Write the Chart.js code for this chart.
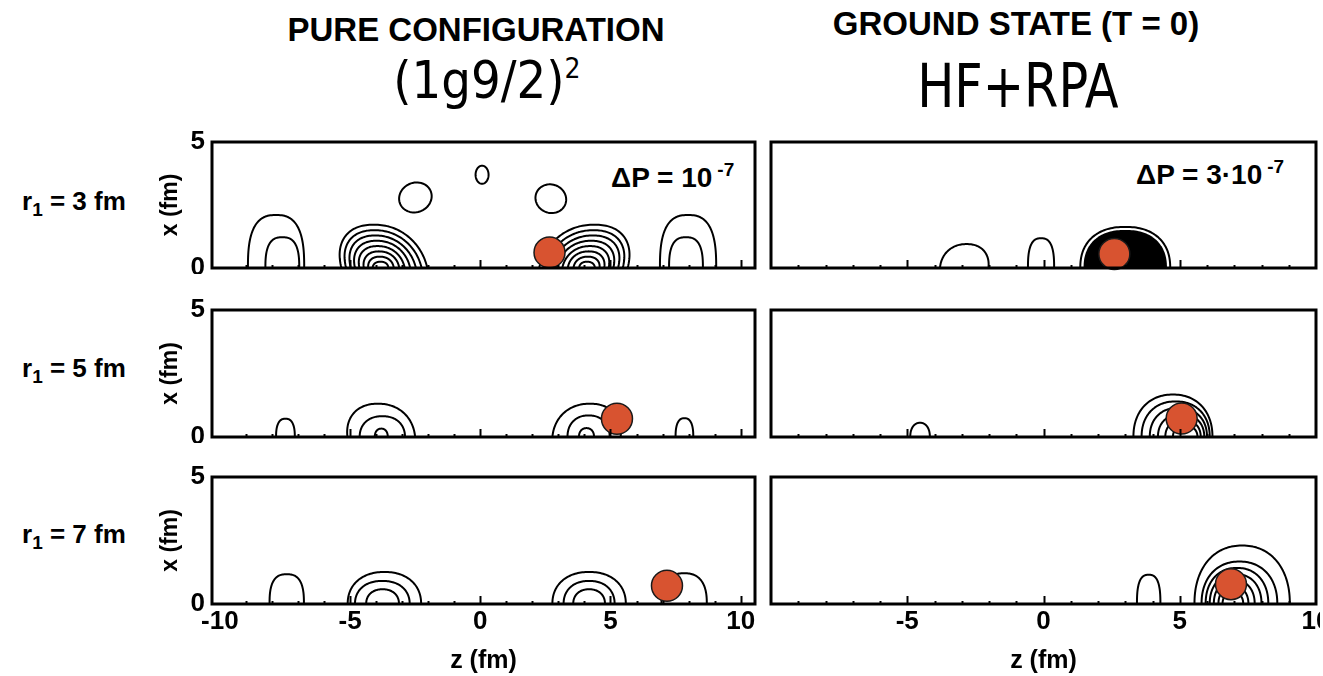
<!DOCTYPE html>
<html>
<head>
<meta charset="utf-8">
<script src="https://cdn.jsdelivr.net/npm/chart.js@4.4.1/dist/chart.umd.min.js"></script>
<style>
  body { margin: 0; background: #fff; width: 1323px; height: 676px; position: relative; overflow: hidden;
         font-family: "Liberation Sans", Arial, sans-serif; color: #000; }
  canvas { position: absolute; }
  .t { position: absolute; white-space: nowrap; line-height: 1; }
  .head { font-weight: bold; font-size: 33px; transform: translateX(-50%); }
  .formula { font-family: "DejaVu Sans Condensed", "DejaVu Sans", sans-serif; font-size: 52px; transform: translateX(-50%); }
  .method { font-family: "Liberation Sans Narrow", "DejaVu Sans Condensed", sans-serif; font-size: 61px;
            transform: translateX(-50%) scaleX(0.9); transform-origin: 0 0; }
  .row { font-weight: bold; font-size: 26px; }
  .row sub { font-size: 19px; vertical-align: -6px; }
  .dp { font-weight: bold; font-size: 28px; }
  .dp sup { font-size: 19px; vertical-align: 11px; margin-left: 5px; }
</style>
</head>
<body>
<div class="t head" style="left:476px; top:13px;">PURE CONFIGURATION</div>
<div class="t formula" style="left:487px; top:54px;">(1g9/2)<sup style="font-size:28px; vertical-align:20px;">2</sup></div>
<div class="t head" style="left:1016px; top:7px;">GROUND STATE (T = 0)</div>
<div class="t method" style="left:1029px; top:55px;">HF+RPA</div>

<div class="t row" id="row0" style="left:22px; top:188px;"></div>
<div class="t row" id="row1" style="left:22px; top:355px;"></div>
<div class="t row" id="row2" style="left:22px; top:521px;"></div>

<div class="t dp" id="dp0" style="left:611px; top:160px;"></div>
<div class="t dp" id="dp1" style="left:1136px; top:157px;"></div>

<script>
// Axis ticks and panel labels
const zTicksPure = [-10, -5, 0, 5, 10];
const zTicksRpa = [-5, 0, 5, 10];
const xTicks = [0, 5];
const radiusLabels = ['3', '5', '7'];
const deltaP = [['', '10', '-7'], ['3·', '10', '-7']];

// Position of the fixed nucleon (z, x) in fm, one per r1 row
const pureParticle = [[2.66, 0.62], [5.25, 0.72], [7.17, 0.72]];
const rpaParticle  = [[2.6, 0.56], [5.07, 0.73], [6.88, 0.78]];

// Contour arches standing on the z axis: [centre z, half width, height, lean, squareness]
const pureArchesR3 = [
  [-7.84, 1.08, 2.1, 0, 2.7], [-7.60, 0.65, 1.22, 0, 2.7],
  [-3.68, 1.65, 1.72, -0.25, 2.2], [-3.70, 1.45, 1.50, -0.25, 2.2], [-3.72, 1.25, 1.29, -0.25, 2.2],
  [-3.75, 1.06, 1.08, -0.22, 2.2], [-3.77, 0.87, 0.87, -0.2, 2.2], [-3.79, 0.68, 0.66, -0.15, 2.2],
  [-3.81, 0.49, 0.45, -0.1, 2.2], [-3.83, 0.30, 0.25, 0, 2.2],
  [3.96, 1.70, 1.72, 0.25, 2.2], [3.98, 1.49, 1.50, 0.25, 2.2], [4.00, 1.29, 1.29, 0.25, 2.2],
  [4.02, 1.09, 1.08, 0.22, 2.2], [4.04, 0.89, 0.87, 0.2, 2.2], [4.06, 0.70, 0.66, 0.15, 2.2],
  [4.08, 0.50, 0.45, 0.1, 2.2], [4.10, 0.30, 0.25, 0, 2.2],
  [7.98, 1.08, 2.1, 0, 2.7], [7.90, 0.65, 1.22, 0, 2.7]
];
// Closed contours off the axis: [centre z, centre x, radius z, radius x, tilt deg]
const pureLoopsR3 = [[-2.49, 2.8, 0.64, 0.58, 30], [2.71, 2.75, 0.6, 0.56, -30], [0.07, 3.7, 0.25, 0.36, 0]];

const rpaArchesR3 = [[-2.91, 0.89, 0.95, 0.1, 2.2], [-0.09, 0.48, 1.18, 0, 2.7], [3.0, 1.65, 1.63, 0, 2.3]];
const rpaFillsR3  = [[3.0, 1.53, 1.51, 0, 2.3]];

const pureArchesR5 = [
  [-7.48, 0.36, 0.72, 0, 2.5],
  [-3.80, 1.30, 1.31, -0.1, 2.2], [-3.76, 0.87, 0.82, 0, 2.2], [-3.80, 0.25, 0.33, 0, 2.2],
  [4.08, 1.31, 1.31, 0.1, 2.2], [4.16, 0.81, 0.85, 0, 2.2], [4.08, 0.29, 0.35, 0, 2.2],
  [7.84, 0.34, 0.74, 0, 2.5]
];
const rpaArchesR5 = [
  [-4.53, 0.36, 0.56, 0, 2.2],
  [4.75, 1.45, 1.67, 0, 2.2], [4.85, 1.25, 1.4, 0, 2.2], [4.95, 1.05, 1.15, 0, 2.2],
  [5.05, 0.85, 0.9, 0, 2.2], [5.12, 0.65, 0.68, 0, 2.2], [5.2, 0.45, 0.45, 0, 2.2]
];

const pureArchesR7 = [
  [-7.43, 0.66, 1.17, 0, 2.7],
  [-3.68, 1.41, 1.26, 0, 2.2], [-3.76, 1.05, 0.91, 0, 2.2], [-3.75, 0.63, 0.58, 0, 2.2],
  [4.18, 1.41, 1.26, 0, 2.2], [4.18, 0.98, 0.91, 0, 2.2], [4.18, 0.61, 0.58, 0, 2.2],
  [7.83, 0.87, 1.21, 0, 2.5]
];
const rpaArchesR7 = [
  [3.86, 0.43, 1.15, 0, 2.7],
  [7.29, 1.75, 2.3, 0, 2.2], [7.19, 1.39, 1.67, 0, 2.2], [7.1, 1.15, 1.42, 0, 2.2],
  [7.05, 0.95, 1.18, 0, 2.2], [7.0, 0.75, 0.94, 0, 2.2], [6.97, 0.55, 0.7, 0, 2.2], [6.95, 0.38, 0.46, 0, 2.2]
];

// Row and ΔP labels
radiusLabels.forEach((r, i) => {
  document.getElementById('row' + i).innerHTML = 'r<sub>1</sub> = ' + r + ' fm';
});
deltaP.forEach((d, i) => {
  document.getElementById('dp' + i).innerHTML = 'ΔP = ' + d[0] + d[1] + '<sup>' + d[2] + '</sup>';
});

const boldFont = size => ({ family: '"Liberation Sans", Arial, sans-serif', size, weight: 'bold' });

// Superellipse arch through the scales, from the right foot over the top to the left foot
function archPath(ctx, xs, ys, a) {
  const [c, hw, h, lean, n] = a;
  const N = 80;
  ctx.beginPath();
  for (let i = 0; i <= N; i++) {
    const t = Math.PI * i / N;
    const ct = Math.cos(t), st = Math.sin(t);
    const u = Math.sign(ct) * Math.pow(Math.abs(ct), 2 / n);
    const v = Math.pow(st, 2 / n);
    const px = xs.getPixelForValue(c + hw * u + lean * hw * v);
    const py = ys.getPixelForValue(h * v);
    if (i === 0) ctx.moveTo(px, py); else ctx.lineTo(px, py);
  }
}

function loopPath(ctx, xs, ys, l) {
  const [c, x0, rz, rx, tilt] = l;
  const r = tilt * Math.PI / 180;
  const N = 60;
  ctx.beginPath();
  for (let i = 0; i <= N; i++) {
    const t = 2 * Math.PI * i / N;
    const dz = rz * Math.cos(t), dx = rx * Math.sin(t);
    const z = c + dz * Math.cos(r) - dx * Math.sin(r);
    const x = x0 + dz * Math.sin(r) + dx * Math.cos(r);
    const px = xs.getPixelForValue(z), py = ys.getPixelForValue(x);
    if (i === 0) ctx.moveTo(px, py); else ctx.lineTo(px, py);
  }
  ctx.closePath();
}

function contourPlugin(arches, loops, fills, majorTicks) {
  return {
    id: 'contours',
    beforeDatasetsDraw(chart) {
      const { ctx, chartArea: a, scales: { x, y } } = chart;
      ctx.save();
      ctx.beginPath();
      ctx.rect(a.left, a.top, a.right - a.left, a.bottom - a.top);
      ctx.clip();
      ctx.strokeStyle = '#000';
      ctx.fillStyle = '#000';
      ctx.lineWidth = 2;
      ctx.lineJoin = 'round';
      fills.forEach(f => { archPath(ctx, x, y, f); ctx.closePath(); ctx.fill(); });
      arches.forEach(f => { archPath(ctx, x, y, f); ctx.stroke(); });
      loops.forEach(l => { loopPath(ctx, x, y, l); ctx.stroke(); });
      ctx.restore();
    },
    afterDraw(chart) {
      const { ctx, chartArea: a, scales: { x } } = chart;
      ctx.save();
      ctx.strokeStyle = '#000';
      // inward tick marks on the z axis: long at labelled ticks, short at every fm
      ctx.lineWidth = 2;
      for (let v = Math.ceil(x.min) + 1; v < x.max - 0.5; v++) {
        const px = Math.round(x.getPixelForValue(v)) + 0.5;
        const len = majorTicks.includes(v) ? 8 : 3;
        ctx.beginPath();
        ctx.moveTo(px, a.bottom);
        ctx.lineTo(px, a.bottom - len);
        ctx.stroke();
      }
      ctx.lineWidth = 3;
      ctx.strokeRect(a.left, a.top, a.right - a.left, a.bottom - a.top);
      ctx.restore();
    }
  };
}

function makePanel(opt) {
  const cv = document.createElement('canvas');
  const padT = 12, padR = 4;
  const yw = opt.leftCol ? 62 : 10;
  const xh = opt.bottomRow ? 72 : 0;
  const padB = opt.bottomRow ? 0 : 6;
  const W = yw + opt.w + padR, H = padT + opt.h + xh + padB;
  cv.width = W; cv.height = H;
  cv.style.left = (opt.left - yw) + 'px';
  cv.style.top = (opt.top - padT) + 'px';
  cv.style.width = W + 'px'; cv.style.height = H + 'px';
  document.body.appendChild(cv);

  new Chart(cv, {
    type: 'scatter',
    data: {
      datasets: [{
        data: [{ x: opt.particle[0], y: opt.particle[1] }],
        pointRadius: 15.5, pointHoverRadius: 15.5,
        backgroundColor: '#D85330', borderColor: '#1a1a1a', borderWidth: 1.5,
        clip: false
      }]
    },
    options: {
      responsive: false, animation: false, events: [],
      devicePixelRatio: 1,
      layout: { autoPadding: false, padding: { left: 0, right: padR, top: padT, bottom: padB } },
      plugins: { legend: { display: false }, tooltip: { enabled: false } },
      scales: {
        x: {
          type: 'linear', min: opt.zMin, max: opt.zMax,
          afterBuildTicks: s => { s.ticks = opt.zTicks.map(v => ({ value: v })); },
          afterFit: s => { s.height = xh; s.paddingLeft = 0; s.paddingRight = 0; },
          grid: { display: false, drawTicks: false },
          border: { display: false },
          ticks: { display: opt.bottomRow, color: '#000', font: boldFont(26), padding: 2,
                   maxRotation: 0, autoSkip: false },
          title: { display: opt.bottomRow, text: 'z (fm)', color: '#000', font: boldFont(25),
                   padding: { top: 0, bottom: 0 } }
        },
        y: {
          type: 'linear', min: 0, max: 5,
          afterBuildTicks: s => { s.ticks = xTicks.map(v => ({ value: v })); },
          afterFit: s => { s.width = yw; s.paddingTop = 0; s.paddingBottom = 0; },
          grid: { display: false, drawTicks: false },
          border: { display: false },
          ticks: { display: opt.leftCol, color: '#000', font: boldFont(26), padding: 7 },
          title: { display: opt.leftCol, text: 'x (fm)', color: '#000', font: boldFont(23),
                   padding: { top: 7, bottom: 0 } }
        }
      }
    },
    plugins: [contourPlugin(opt.arches, opt.loops || [], opt.fills || [], opt.zTicks)]
  });
}

const rows = [{ top: 142, h: 126 }, { top: 310, h: 127 }, { top: 477, h: 127 }];
const pureCol = { left: 212, w: 543, zMin: -10.3, zMax: 10.55, leftCol: true, zTicks: zTicksPure };
const rpaCol  = { left: 771, w: 545, zMin: -10, zMax: 10, leftCol: false, zTicks: zTicksRpa };

const pureSets = [
  { arches: pureArchesR3, loops: pureLoopsR3 },
  { arches: pureArchesR5 },
  { arches: pureArchesR7 }
];
const rpaSets = [
  { arches: rpaArchesR3, fills: rpaFillsR3 },
  { arches: rpaArchesR5 },
  { arches: rpaArchesR7 }
];

rows.forEach((r, i) => {
  makePanel(Object.assign({}, pureCol, r, pureSets[i], { particle: pureParticle[i], bottomRow: i === 2 }));
  makePanel(Object.assign({}, rpaCol, r, rpaSets[i], { particle: rpaParticle[i], bottomRow: i === 2 }));
});
</script>
</body>
</html>
